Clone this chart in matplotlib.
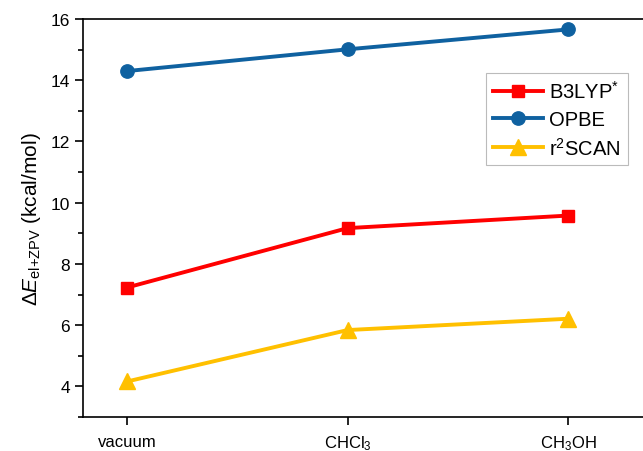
import matplotlib
matplotlib.use("Agg")
import matplotlib.pyplot as plt
from matplotlib.ticker import MultipleLocator

plt.rcParams['font.family'] = ['Liberation Sans', 'DejaVu Sans']
plt.rcParams['mathtext.fontset'] = 'custom'
plt.rcParams['mathtext.rm'] = 'Liberation Sans'
plt.rcParams['mathtext.it'] = 'Liberation Sans:italic'

categories = ['vacuum', 'CHCl$_3$', 'CH$_3$OH']
b3lyp = [7.23, 9.17, 9.58]
opbe = [14.30, 15.01, 15.66]
r2scan = [4.16, 5.84, 6.21]
series_labels = ['B3LYP$^{*}$', 'OPBE', 'r$^2$SCAN']

fig = plt.figure(figsize=(6.43, 4.52), dpi=100)
ax = fig.add_axes([0.129, 0.0752, 0.871, 0.8805])

x = list(range(len(categories)))
ax.plot(x, b3lyp, color='#FF0000', lw=2.8, marker='s', ms=8.3, label=series_labels[0])
ax.plot(x, opbe, color='#0F61A0', lw=2.8, marker='o', ms=9.6, label=series_labels[1])
ax.plot(x, r2scan, color='#FFC000', lw=2.8, marker='^', ms=12, label=series_labels[2])

ax.set_xlim(-0.2, 2.34)
ax.set_ylim(3, 16)
ax.set_xticks(x)
ax.set_xticklabels(categories, fontsize=12)
ax.yaxis.set_major_locator(MultipleLocator(2))
ax.yaxis.set_minor_locator(MultipleLocator(1))
ax.tick_params(axis='y', which='major', direction='out', length=6, width=1.2, labelsize=12.5)
ax.tick_params(axis='y', which='minor', direction='out', length=3.5, width=1.2)
ax.tick_params(axis='x', which='major', direction='out', length=6, width=1.2, pad=6)
ax.spines['right'].set_visible(False)
for s in ['left', 'bottom', 'top']:
    ax.spines[s].set_linewidth(1.2)

ax.set_ylabel(r'$\Delta\mathit{E}_{\mathrm{el{+}ZPV}}$ (kcal/mol)', fontsize=15, labelpad=5)

leg = ax.legend(loc='upper right', bbox_to_anchor=(0.973, 0.864), fontsize=14.5,
                frameon=True, fancybox=False, edgecolor='#BBBBBB', framealpha=1,
                handlelength=2.5, handletextpad=0.3, borderpad=0.35, labelspacing=0.38,
                borderaxespad=0)
leg.get_frame().set_linewidth(0.8)

fig.savefig('out.png', dpi=100)
